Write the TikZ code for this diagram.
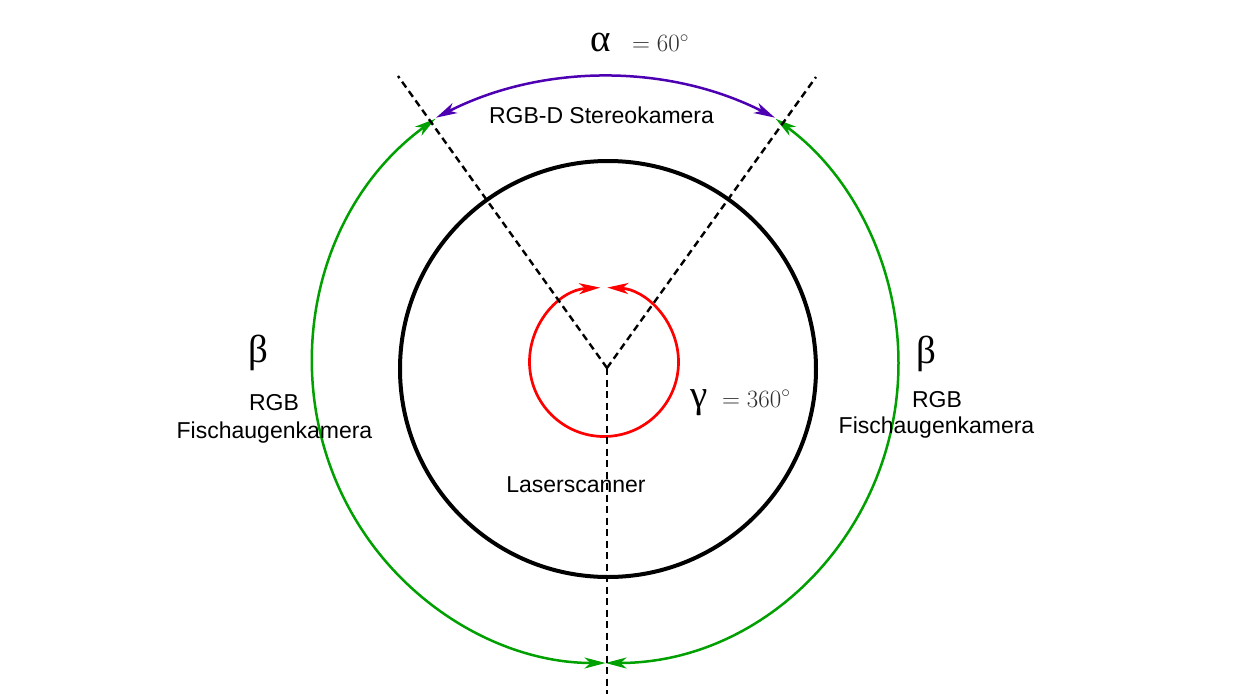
\documentclass[tikz,border=0pt]{standalone}
\usepackage{fontspec}
\setmainfont{Liberation Sans}
\newfontfamily\grk{Liberation Serif}
\usetikzlibrary{arrows.meta}
\definecolor{plotgreen}{RGB}{0,160,0}
\definecolor{plotpurple}{RGB}{77,0,178}
\definecolor{eqgray}{gray}{0.18}
\tikzset{
  lbl/.style={font=\fontsize{23}{27}\selectfont, inner sep=0pt, anchor=base},
  greeklbl/.style={font=\grk\fontsize{39}{45}\selectfont, inner sep=0pt},
  eqlbl/.style={text=eqgray, font=\fontsize{26}{30}\selectfont, inner sep=0pt, anchor=base west},
  axisline/.style={dash pattern=on 7pt off 4.5pt, line width=2.4pt, black},
  ringline/.style={line width=4pt, black},
  greenarc/.style={line width=2.5pt, plotgreen, <->},
  purplearc/.style={line width=2.5pt, plotpurple, <->},
  redarc/.style={line width=2.7pt, red, <->}
}
\begin{document}
\begin{tikzpicture}[x=1pt,y=1pt, >={Stealth[length=21pt,width=11pt,inset=6pt]}]
\useasboundingbox (-607,-326) rectangle (634,368);
\coordinate (O) at (0,0);
\coordinate (endL) at (-209,292);
\coordinate (endR) at (209,291);
\coordinate (endB) at (0,-326);
% laser scanner ring
\draw[ringline] (1,-1) circle[radius=208];
% fisheye arcs
\draw[greenarc] ([shift={(-1.5,5)}]125.5:293 and 300) arc[start angle=125.5, end angle=270, x radius=293, y radius=300];
\draw[greenarc] ([shift={(-1.5,5)}]270:293 and 300) arc[start angle=270, end angle=414.5, x radius=293, y radius=300];
% stereo arc
\draw[purplearc] ([shift={(-1.5,-82)}]63:373) arc[start angle=63, end angle=117, radius=373];
% laser scanner 360
\draw[redarc] ([shift={(-3,6)}]93:74.5) arc[start angle=93, end angle=447.5, radius=74.5];
% axes
\draw[axisline] (O) -- (endL);
\draw[axisline] (O) -- (endR);
\draw[axisline] (O) -- (endB);
% labels
\node[lbl] (stereo) at (-5.5,244) {RGB-D Stereokamera};
\node[greeklbl, anchor=base west] (alpha) at (-17,316) {α};
\node[eqlbl] (alphaeq) at (25,316) {$=60^\circ$};
\node[greeklbl, anchor=base west] (gamma) at (83,-39) {γ};
\node[eqlbl] (gammaeq) at (115,-39) {$=360^\circ$};
\node[greeklbl] (betaL) at (-349,15) {β};
\node[greeklbl] (betaR) at (319,14.5) {β};
\node[lbl] (rgbL) at (-333,-42) {RGB};
\node[lbl] (fischL) at (-332.5,-70) {Fischaugenkamera};
\node[lbl] (rgbR) at (330,-39) {RGB};
\node[lbl] (fischR) at (329.5,-65) {Fischaugenkamera};
\node[lbl] (laser) at (-31,-124) {Laserscanner};
\end{tikzpicture}
\end{document}
